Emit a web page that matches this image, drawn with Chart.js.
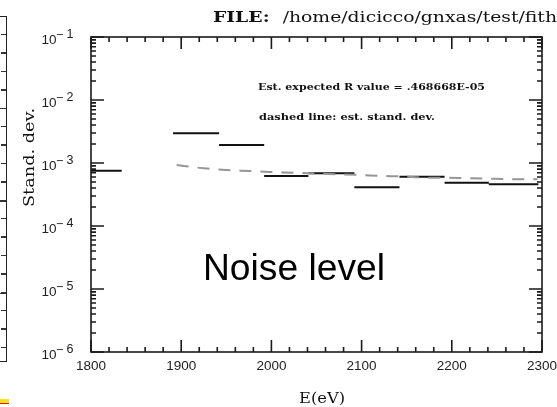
<!DOCTYPE html>
<html>
<head>
<meta charset="utf-8">
<script src="https://cdn.jsdelivr.net/npm/chart.js@4.4.0/dist/chart.umd.min.js"></script>
<style>
  html, body { margin: 0; padding: 0; background: #fff; }
  #wrap { position: relative; width: 557px; height: 407px; overflow: hidden; background: #fff; }
  #chjs_chart0 { position: absolute; left: 0; top: 0; }
  /* bit of the neighbouring panel on the slide */
  #side { position: absolute; left: -10px; top: 16px; width: 17px; height: 346px;
          border: 1.5px solid #222; box-sizing: border-box; }
  #side_ticks { position: absolute; right: 0; top: 0; width: 5px; height: 100%;
          background: repeating-linear-gradient(to bottom, transparent 0 17px, #333 17px 18.4px); }
  #side_major { position: absolute; right: 0; top: 0; width: 9px; height: 100%;
          background: repeating-linear-gradient(to bottom, transparent 0 91px, #333 91px 92.5px); }
  #bar { position: absolute; left: 0; top: 399px; width: 9px; height: 4px; background: #ffe21a;
          border-bottom: 1.5px solid #e02010; }
</style>
</head>
<body>
<div id="wrap">
  <div id="side"><div id="side_ticks"></div><div id="side_major"></div></div>
  <div id="bar"></div>
  <canvas id="chjs_chart0" width="557" height="407"></canvas>
</div>
<script>
// energy bins (eV) and the stand. dev. in each bin
const bin_lo = [1800, 1891, 1942, 1992, 2041, 2092, 2142, 2192, 2241];
const bin_hi = [1834, 1942, 1992, 2041, 2092, 2142, 2192, 2241, 2296];
const bin_sd = [7.55e-4, 2.96e-3, 1.93e-3, 6.2e-4, 6.86e-4, 4.11e-4, 6.06e-4, 4.87e-4, 4.59e-4];

// dashed line: est. stand. dev.
const est_e  = [1895, 1925, 1950, 1976, 1998, 2024, 2072, 2098, 2122, 2144, 2172, 2196, 2220, 2246, 2270, 2295];
const est_sd = [9.3e-4, 8.24e-4, 7.74e-4, 7.46e-4, 7.2e-4, 7.02e-4, 6.62e-4, 6.45e-4, 6.22e-4, 6.15e-4,
                5.85e-4, 5.85e-4, 5.71e-4, 5.63e-4, 5.51e-4, 5.51e-4];

// axes
const x_ticks = [1800, 1900, 2000, 2100, 2200, 2300];
const x_tick_labels = ["1800", "1900", "2000", "2100", "2200", "2300"];
const y_exps = [-1, -2, -3, -4, -5, -6];
const y_tick_digits = ["1", "2", "3", "4", "5", "6"];

const file_text = "/home/dicicco/gnxas/test/fith";
const r_text = "Est. expected R value = .468668E-05";
const dash_text = "dashed line: est. stand. dev.";

function fit_text(ctx, txt, x, y, w){
    const m = ctx.measureText(txt).width;
    ctx.save();
    ctx.translate(x, y);
    ctx.scale(w / m, 1);
    ctx.fillText(txt, 0, 0);
    ctx.restore();
}

const frame_plugin = {
    id: "frame_plugin",
    afterDraw(chart){
        const ctx = chart.ctx, a = chart.chartArea;
        const xs = chart.scales.x, ys = chart.scales.y;
        ctx.save();
        ctx.strokeStyle = "#1a1a1a";
        ctx.lineWidth = 1.6;
        ctx.strokeRect(a.left, a.top, a.right - a.left, a.bottom - a.top);

        // inward ticks on all four sides
        ctx.beginPath();
        for (let e = 1800; e <= 2300; e += 20){
            const px = xs.getPixelForValue(e);
            const len = (e % 100 === 0) ? 12 : 5;
            ctx.moveTo(px, a.bottom); ctx.lineTo(px, a.bottom - len);
            ctx.moveTo(px, a.top); ctx.lineTo(px, a.top + len);
        }
        for (let d = -6; d <= -1; d++){
            for (let m = 1; m <= 9; m++){
                const v = m * Math.pow(10, d);
                if (v > 0.1 * 1.0001) break;
                const py = ys.getPixelForValue(v);
                const len = (m === 1) ? 13 : 5;
                ctx.moveTo(a.left, py); ctx.lineTo(a.left + len, py);
                ctx.moveTo(a.right, py); ctx.lineTo(a.right - len, py);
            }
        }
        ctx.stroke();

        // tick labels
        ctx.fillStyle = "#222";
        ctx.textBaseline = "middle";
        ctx.textAlign = "center";
        ctx.font = "13.5px 'Liberation Sans'";
        for (let i = 0; i < x_ticks.length; i++){
            ctx.fillText(x_tick_labels[i], xs.getPixelForValue(x_ticks[i]), 366);
        }
        ctx.textAlign = "left";
        for (let i = 0; i < y_exps.length; i++){
            const py = ys.getPixelForValue(Math.pow(10, y_exps[i]));
            ctx.font = "13.5px 'Liberation Sans'";
            ctx.fillText("10", 41.5, py + 3);
            ctx.font = "12.5px 'Liberation Sans'";
            ctx.fillText("\u2212", 56, py - 1.5);
            ctx.fillText(y_tick_digits[i], 66.5, py - 2);
        }

        // texts
        ctx.fillStyle = "#111";
        ctx.font = "bold 15px 'DejaVu Serif'";
        const w1 = ctx.measureText("FILE:  ").width;
        ctx.font = "15px 'DejaVu Serif'";
        const w2 = ctx.measureText(file_text).width;
        const k = 344 / (w1 + w2);
        ctx.save();
        ctx.translate(213, 18);
        ctx.scale(k, 1);
        ctx.font = "bold 15px 'DejaVu Serif'";
        ctx.fillText("FILE:", 0, 0);
        ctx.font = "15px 'DejaVu Serif'";
        ctx.fillText(file_text, w1, 0);
        ctx.restore();

        ctx.font = "bold 9.5px 'DejaVu Serif'";
        fit_text(ctx, r_text, 258, 88, 227);
        fit_text(ctx, dash_text, 259, 118, 176);

        ctx.font = "15px 'DejaVu Serif'";
        fit_text(ctx, "E(eV)", 299, 399, 46);

        ctx.save();
        ctx.translate(30, 207);
        ctx.rotate(-Math.PI / 2);
        ctx.font = "15px 'DejaVu Serif'";
        fit_text(ctx, "Stand. dev.", 0, 0, 99);
        ctx.restore();

        ctx.fillStyle = "#000";
        ctx.font = "36px 'Liberation Sans'";
        ctx.textBaseline = "alphabetic";
        fit_text(ctx, "Noise level", 203, 280, 182);
        ctx.restore();
    }
};

class NoiseChart{
    constructor(canvas_id){
        this.canvas_id = canvas_id;
        this.step_data = [];
        this.est_data = [];
    }

    process_data(){
        //each bin is a flat segment, broken from the next one
        for (let i = 0; i < bin_sd.length; i++){
            this.step_data.push({x: bin_lo[i], y: bin_sd[i]});
            this.step_data.push({x: bin_hi[i], y: bin_sd[i]});
            this.step_data.push({x: bin_hi[i], y: null});
        }
        for (let i = 0; i < est_e.length; i++){
            this.est_data.push({x: est_e[i], y: est_sd[i]});
        }
    }

    build_chart(){
        new Chart(document.getElementById(this.canvas_id), {
            type: "line",
            data: {
                datasets: [{
                    label: "stand. dev.",
                    data: this.step_data,
                    borderColor: "#111",
                    borderWidth: 2,
                    pointRadius: 0,
                    spanGaps: false,
                    tension: 0
                },
                {
                    label: "est. stand. dev.",
                    data: this.est_data,
                    borderColor: "rgb(150, 150, 150)",
                    borderWidth: 2,
                    borderDash: [12, 9],
                    pointRadius: 0,
                    cubicInterpolationMode: "monotone",
                    order: -1
                }]
            },
            options: {
                responsive: false,
                animation: false,
                layout: { padding: { left: 91, right: 15, top: 37, bottom: 55 } },
                plugins: { legend: { display: false }, tooltip: { enabled: false } },
                scales: {
                    x: { type: "linear", min: 1800, max: 2300, display: false },
                    y: { type: "logarithmic", min: 1e-6, max: 1e-1, display: false }
                }
            },
            plugins: [frame_plugin]
        });
    }
}

const noise_chart = new NoiseChart("chjs_chart0");
noise_chart.process_data();
noise_chart.build_chart();
</script>
</body>
</html>
